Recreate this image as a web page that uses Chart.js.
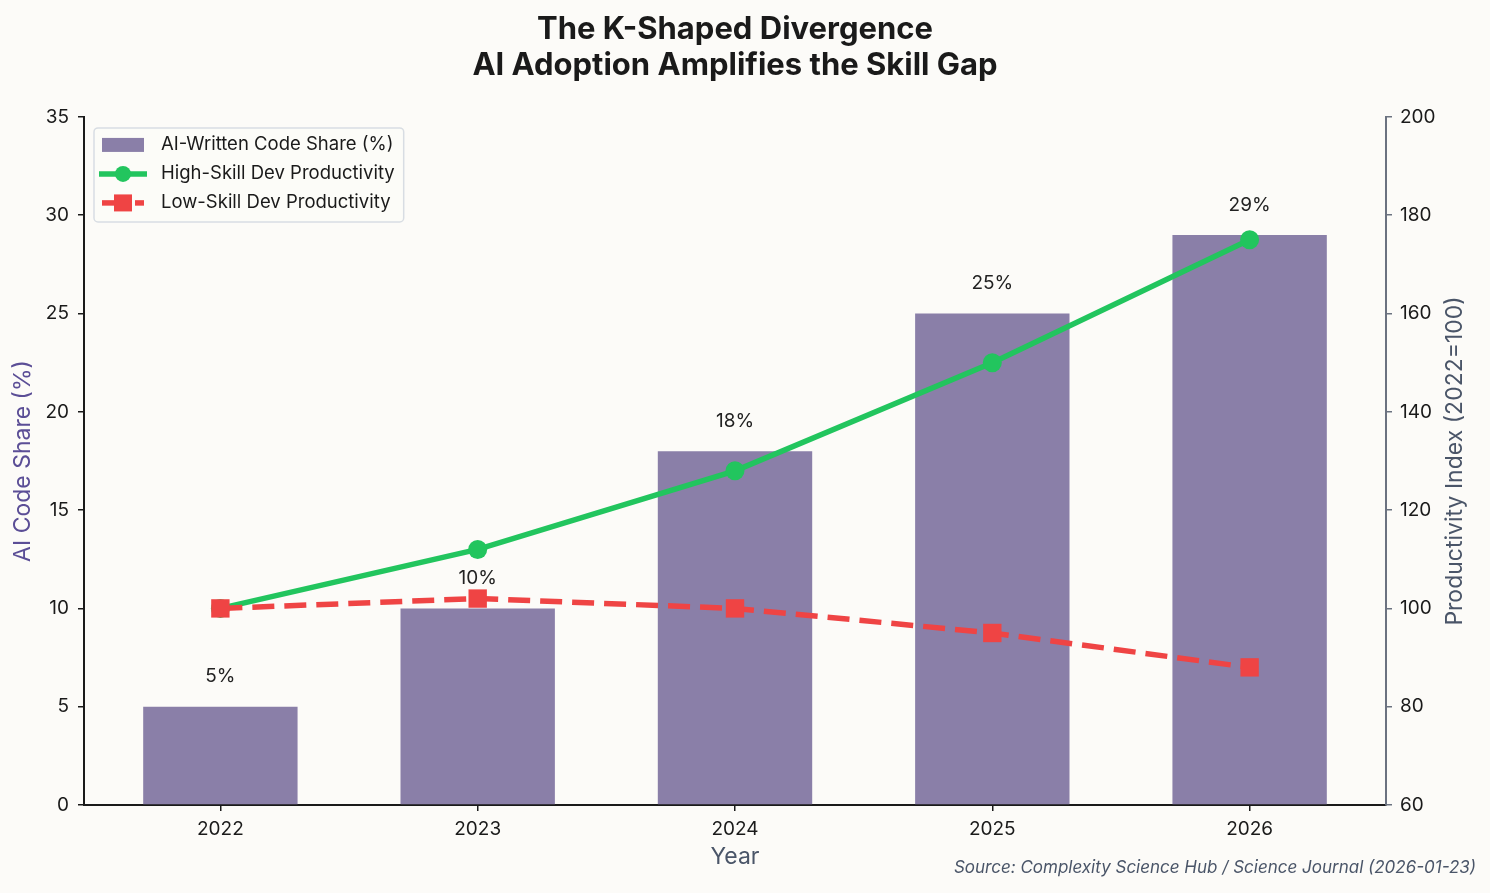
<!DOCTYPE html>
<html>
<head>
<meta charset="utf-8">
<script src="https://cdn.jsdelivr.net/npm/chart.js@4.4.1/dist/chart.umd.min.js"></script>
<style>
  html, body { margin: 0; padding: 0; background: #fcfbf8; }
  #wrap { width: 1490px; height: 893px; }
</style>
</head>
<body>
<div id="wrap"><canvas id="c" width="1490" height="893"></canvas></div>
<script>
// ---------- DATA ----------
const years = ['2022', '2023', '2024', '2025', '2026'];
const aiShare = [5, 10, 18, 25, 29];
const highSkill = [100, 112, 128, 150, 175];
const lowSkill = [100, 102, 100, 95, 88];
const leftTicks = [0, 5, 10, 15, 20, 25, 30, 35];
const rightTicks = [60, 80, 100, 120, 140, 160, 180, 200];
const seriesLabels = ['AI-Written Code Share (%)', 'High-Skill Dev Productivity', 'Low-Skill Dev Productivity'];
const titleLines = ['The K-Shaped Divergence', 'AI Adoption Amplifies the Skill Gap'];
const rightAxisTitle = 'Productivity Index (2022=100)';
const sourceText = 'Source: Complexity Science Hub / Science Journal (2026-01-23)';

// ---------- STYLE ----------
const FONT = 'Inter, "Noto Sans", "DejaVu Sans", sans-serif';
const BG = '#fcfbf8';
const BAR = '#8a7fa8';
const GREEN = '#22c55e';
const RED = '#ef4444';
const INK = '#1a1a1a';
const GRAY = '#4a5568';
Chart.defaults.font.family = FONT;
Chart.defaults.color = INK;

const pts = arr => arr.map((v, i) => ({ x: i, y: v }));

const bgPlugin = {
  id: 'bg',
  beforeDraw(chart) {
    const c = chart.ctx;
    c.save();
    c.fillStyle = BG;
    c.fillRect(0, 0, chart.width, chart.height);
    c.restore();
  }
};

const barLabels = {
  id: 'barLabels',
  afterDatasetsDraw(chart) {
    const meta = chart.getDatasetMeta(0);
    const c = chart.ctx;
    c.save();
    c.font = '19px ' + FONT;
    c.fillStyle = '#222222';
    c.textAlign = 'center';
    c.textBaseline = 'middle';
    meta.data.forEach((bar, i) => {
      c.fillText(aiShare[i] + '%', bar.x, bar.y - 30);
    });
    c.restore();
  }
};

const customLegend = {
  id: 'customLegend',
  afterDraw(chart) {
    const c = chart.ctx;
    const a = chart.chartArea;
    const ds = chart.data.datasets;
    c.save();
    c.font = '18.5px ' + FONT;
    const textX = a.left + 77;
    let maxW = 0;
    seriesLabels.forEach(t => { maxW = Math.max(maxW, c.measureText(t).width); });
    const fx = a.left + 10, fy = a.top + 11;
    const fw = textX + maxW + 9 - fx, fh = 94;
    c.beginPath();
    c.roundRect(fx, fy, fw, fh, 4);
    c.fillStyle = 'rgba(252,251,248,0.85)';
    c.fill();
    c.lineWidth = 1.5;
    c.strokeStyle = '#d8dde3';
    c.stroke();
    const symX = a.left + 39;
    const rows = [a.top + 28, a.top + 57, a.top + 86];
    // bar swatch
    c.fillStyle = ds[0].backgroundColor;
    c.fillRect(symX - 21, rows[0] - 7, 42, 14);
    // green line + circle
    c.strokeStyle = ds[1].borderColor;
    c.lineWidth = ds[1].borderWidth;
    c.beginPath(); c.moveTo(symX - 24, rows[1]); c.lineTo(symX + 24, rows[1]); c.stroke();
    c.fillStyle = ds[1].borderColor;
    c.beginPath(); c.arc(symX, rows[1], 8, 0, Math.PI * 2); c.fill();
    // red dashed + square
    c.strokeStyle = ds[2].borderColor;
    c.lineWidth = ds[2].borderWidth;
    c.beginPath(); c.moveTo(symX - 21, rows[2]); c.lineTo(symX - 8, rows[2]); c.stroke();
    c.beginPath(); c.moveTo(symX + 12, rows[2]); c.lineTo(symX + 21, rows[2]); c.stroke();
    c.fillStyle = ds[2].borderColor;
    c.fillRect(symX - 9, rows[2] - 8.5, 18, 17);
    // texts
    c.fillStyle = INK;
    c.textAlign = 'left';
    c.textBaseline = 'middle';
    seriesLabels.forEach((t, i) => c.fillText(t, textX, rows[i]));
    c.restore();
  }
};

const textPlugin = {
  id: 'extraText',
  afterDraw(chart) {
    const c = chart.ctx;
    const a = chart.chartArea;
    c.save();
    // source note
    c.font = 'italic 17px ' + FONT;
    c.fillStyle = GRAY;
    c.textAlign = 'right';
    c.textBaseline = 'middle';
    c.fillText(sourceText, chart.width - 14, chart.height - 25);
    // right axis title (reads bottom-to-top)
    c.translate(chart.width - 35, (a.top + a.bottom) / 2);
    c.rotate(-Math.PI / 2);
    c.font = '23px ' + FONT;
    c.textAlign = 'center';
    c.fillText(rightAxisTitle, 0, 0);
    c.restore();
  }
};

new Chart(document.getElementById('c'), {
  data: {
    datasets: [
      {
        type: 'bar', label: seriesLabels[0], data: pts(aiShare),
        backgroundColor: BAR, borderWidth: 0, yAxisID: 'y', xAxisID: 'x',
        categoryPercentage: 0.6, barPercentage: 1.0, order: 3
      },
      {
        type: 'line', label: seriesLabels[1], data: pts(highSkill),
        borderColor: GREEN, backgroundColor: GREEN, borderWidth: 5.5,
        pointRadius: 9.5, pointBorderWidth: 0, pointBackgroundColor: GREEN,
        yAxisID: 'y1', xAxisID: 'x', tension: 0, order: 2
      },
      {
        type: 'line', label: seriesLabels[2], data: pts(lowSkill),
        borderColor: RED, backgroundColor: RED, borderWidth: 5.5, borderDash: [22, 10],
        pointStyle: 'rect', pointRadius: 13, pointBorderWidth: 0, pointBackgroundColor: RED,
        yAxisID: 'y1', xAxisID: 'x', tension: 0, order: 1
      }
    ]
  },
  options: {
    responsive: false,
    animation: false,
    layout: { padding: 0 },
    scales: {
      x: {
        type: 'linear', position: 'bottom', min: -0.53, max: 4.53, offset: false,
        afterBuildTicks: s => { s.ticks = years.map((_, i) => ({ value: i })); },
        afterFit: s => { s.height = 88; },
        ticks: { callback: v => years[v], font: { size: 19 }, color: INK, padding: 7, autoSkip: false, maxRotation: 0 },
        grid: { display: true, offset: false, drawOnChartArea: false, drawTicks: true, tickLength: 6, color: INK, lineWidth: 1.5 },
        border: { display: true, color: INK, width: 2 },
        title: { display: true, text: 'Year', font: { size: 23 }, color: GRAY, padding: { top: 0, bottom: 22 } }
      },
      y: {
        type: 'linear', position: 'left', min: 0, max: 35,
        afterBuildTicks: s => { s.ticks = leftTicks.map(v => ({ value: v })); },
        afterFit: s => { s.width = 84; },
        ticks: { font: { size: 19 }, color: INK, padding: 9 },
        grid: { display: true, drawOnChartArea: false, tickLength: 6, color: INK, lineWidth: 1.5 },
        border: { display: true, color: INK, width: 2 },
        title: { display: true, text: 'AI Code Share (%)', font: { size: 23 }, color: '#5b4e96', padding: { top: 9, bottom: 0 } }
      },
      y1: {
        type: 'linear', position: 'right', min: 60, max: 200,
        afterBuildTicks: s => { s.ticks = rightTicks.map(v => ({ value: v })); },
        afterFit: s => { s.width = 104; },
        ticks: { font: { size: 19 }, color: INK, padding: 8 },
        grid: { display: true, drawOnChartArea: false, tickLength: 6, color: '#6b7280', lineWidth: 1.5 },
        border: { display: true, color: '#6b7280', width: 2 },
        title: { display: false, text: rightAxisTitle }
      }
    },
    plugins: {
      legend: { display: false },
      tooltip: { enabled: false },
      title: {
        display: true, text: titleLines, fullSize: false,
        font: { size: 31, weight: 'bold', lineHeight: 1.16 }, color: INK,
        padding: { top: 12, bottom: 33 }
      }
    }
  },
  plugins: [bgPlugin, barLabels, customLegend, textPlugin]
});
</script>
</body>
</html>
